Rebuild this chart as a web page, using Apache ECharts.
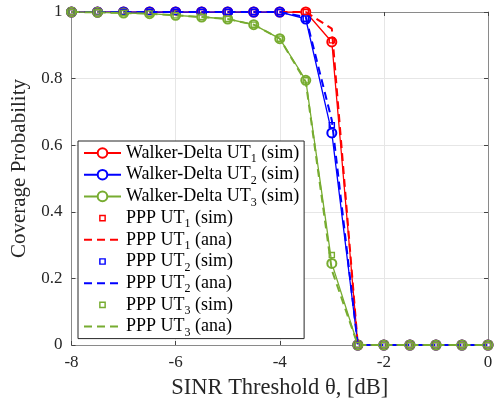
<!DOCTYPE html>
<html>
<head>
<meta charset="utf-8">
<script src="https://cdn.jsdelivr.net/npm/echarts@6/dist/echarts.min.js"></script>
<style>
  html, body { margin: 0; padding: 0; background: #fff; }
  #chart { width: 498px; height: 402px; }
</style>
</head>
<body>
<div id="chart"></div>
<script>
// SINR thresholds in dB
const thresholds = [-8, -7.5, -7, -6.5, -6, -5.5, -5, -4.5, -4, -3.5, -3, -2.5, -2, -1.5, -1, -0.5, 0];

// Coverage probability, Walker-Delta constellation (simulation)
const walkerUT1 = [1, 1, 1, 1, 1, 1, 1, 1, 1, 1, 0.91, 0, 0, 0, 0, 0, 0];
const walkerUT2 = [1, 1, 1, 1, 1, 1, 1, 1, 1, 0.979, 0.637, 0, 0, 0, 0, 0, 0];
const walkerUT3 = [1, 0.999, 0.997, 0.995, 0.99, 0.985, 0.979, 0.962, 0.92, 0.795, 0.245, 0, 0, 0, 0, 0, 0];

// Coverage probability, PPP model (simulation)
const pppSimUT1 = [1, 1, 1, 1, 1, 1, 1, 1, 1, 1, 0.915, 0, 0, 0, 0, 0, 0];
const pppSimUT2 = [1, 1, 1, 1, 1, 1, 1, 1, 1, 0.98, 0.66, 0, 0, 0, 0, 0, 0];
const pppSimUT3 = [1, 0.999, 0.997, 0.995, 0.99, 0.985, 0.979, 0.962, 0.92, 0.795, 0.27, 0, 0, 0, 0, 0, 0];

// Coverage probability, PPP model (analysis)
const pppAnaUT1 = [1, 1, 1, 1, 1, 1, 1, 1, 1, 1, 0.95, 0, 0, 0, 0, 0, 0];
const pppAnaUT2 = [1, 1, 1, 1, 1, 1, 1, 1, 1, 0.985, 0.675, 0, 0, 0, 0, 0, 0];
const pppAnaUT3 = [1, 0.999, 0.997, 0.995, 0.99, 0.985, 0.979, 0.962, 0.92, 0.79, 0.225, 0, 0, 0, 0, 0, 0];

const xTicks = [-8, -6, -4, -2, 0];
const yTicks = [0, 0.2, 0.4, 0.6, 0.8, 1];

const RED = '#ff0000', BLUE = '#0000ff', GREEN = '#77ac30';
const FONT = 'Liberation Serif';

// Hollow square marker; the two leading moveTo points pad the box so the
// square sits inside the symbol area at 70% of its size.
const HOLLOW_SQUARE = 'path://M0,0M10,10M1.5,1.5H8.5V8.5H1.5Z M3,3V7H7V3Z';

const pairs = ys => thresholds.map((x, i) => [x, ys[i]]);

function walker(name, ys, color) {
  return {
    name, type: 'line', data: pairs(ys),
    symbol: 'emptyCircle', symbolSize: 9, showAllSymbol: true,
    lineStyle: { color, width: 1.3 },
    itemStyle: { color, borderColor: color, borderWidth: 1.3 },
    emphasis: { disabled: true }, z: 3
  };
}
function pppSim(name, ys, color) {
  return {
    name, type: 'line', data: pairs(ys),
    symbol: HOLLOW_SQUARE, symbolSize: 9.3, showAllSymbol: true,
    lineStyle: { color, width: 1, opacity: 0 },
    itemStyle: { color, borderWidth: 0 },
    emphasis: { disabled: true }, z: 4
  };
}
function pppAna(name, ys, color) {
  return {
    name, type: 'line', data: pairs(ys), showSymbol: false,
    lineStyle: { color, width: 2, type: [8, 5] },
    itemStyle: { color },
    emphasis: { disabled: true }, z: 4
  };
}

const series = [
  walker('Walker-Delta UT1 (sim)', walkerUT1, RED),
  walker('Walker-Delta UT2 (sim)', walkerUT2, BLUE),
  walker('Walker-Delta UT3 (sim)', walkerUT3, GREEN),
  pppSim('PPP UT1 (sim)', pppSimUT1, RED),
  pppAna('PPP UT1 (ana)', pppAnaUT1, RED),
  pppSim('PPP UT2 (sim)', pppSimUT2, BLUE),
  pppAna('PPP UT2 (ana)', pppAnaUT2, BLUE),
  pppSim('PPP UT3 (sim)', pppSimUT3, GREEN),
  pppAna('PPP UT3 (ana)', pppAnaUT3, GREEN)
];

// Legend entries: markers only for sim, dashed line only for ana
const legendData = series.map(s => {
  if (s.name.startsWith('PPP') && s.name.endsWith('(sim)')) return { name: s.name, lineStyle: { opacity: 0 } };
  if (s.name.endsWith('(ana)')) return { name: s.name, itemStyle: { opacity: 0 } };
  return { name: s.name };
});

const AXIS_GRAY = '#8a8a8a';
const tickText = { fontFamily: FONT, fontSize: 17, color: '#262626' };

const chart = echarts.init(document.getElementById('chart'), null, { renderer: 'canvas' });
chart.setOption({
  animation: false,
  backgroundColor: '#fff',
  grid: { left: 71.5, right: 10, top: 12, bottom: 57, containLabel: false, outerBoundsMode: 'none' },
  xAxis: [{
    type: 'value', min: xTicks[0], max: xTicks[xTicks.length - 1], interval: 2,
    name: 'SINR Threshold θ, [dB]', nameLocation: 'middle', nameGap: 32,
    nameTextStyle: { fontFamily: FONT, fontSize: 22.5, color: '#262626' },
    axisLine: { show: true, onZero: false, lineStyle: { color: AXIS_GRAY, width: 1 } },
    axisTick: { show: true, inside: true, length: 4, lineStyle: { color: '#444' } },
    axisLabel: Object.assign({ margin: 9 }, tickText),
    splitLine: { show: true, lineStyle: { color: '#e6e6e6', width: 1 } }
  }, {
    type: 'value', position: 'top', min: xTicks[0], max: xTicks[xTicks.length - 1], interval: 2,
    axisLine: { show: true, onZero: false, lineStyle: { color: AXIS_GRAY, width: 1 } },
    axisTick: { show: true, inside: true, length: 4, lineStyle: { color: '#444' } },
    axisLabel: { show: false }, splitLine: { show: false }
  }],
  yAxis: [{
    type: 'value', min: yTicks[0], max: yTicks[yTicks.length - 1], interval: 0.2,
    name: 'Coverage Probability', nameLocation: 'middle', nameGap: 34,
    nameTextStyle: { fontFamily: FONT, fontSize: 21, color: '#262626', padding: [0, 0, 0, 20] },
    axisLine: { show: true, onZero: false, lineStyle: { color: AXIS_GRAY, width: 1 } },
    axisTick: { show: true, inside: true, length: 4, lineStyle: { color: '#444' } },
    axisLabel: Object.assign({ margin: 9 }, tickText),
    splitLine: { show: true, lineStyle: { color: '#e6e6e6', width: 1 } }
  }, {
    type: 'value', position: 'right', min: yTicks[0], max: yTicks[yTicks.length - 1], interval: 0.2,
    axisLine: { show: true, onZero: false, lineStyle: { color: AXIS_GRAY, width: 1 } },
    axisTick: { show: true, inside: true, length: 4, lineStyle: { color: '#444' } },
    axisLabel: { show: false }, splitLine: { show: false }
  }],
  legend: {
    orient: 'vertical', left: 78, top: 141,
    padding: [3, 5, 0, 5], itemGap: 0.7, itemWidth: 37, itemHeight: 12,
    backgroundColor: '#fff', borderColor: '#262626', borderWidth: 1,
    selectedMode: false,
    data: legendData,
    formatter: name => name.replace(/UT(\d)/, 'UT{sub|$1}'),
    textStyle: {
      fontFamily: FONT, fontSize: 18, lineHeight: 18, color: '#000',
      rich: { sub: { fontFamily: FONT, fontSize: 12, color: '#000', verticalAlign: 'bottom', lineHeight: 12, padding: [0, 0, -3, 0] } }
    }
  },
  series
});
</script>
</body>
</html>
